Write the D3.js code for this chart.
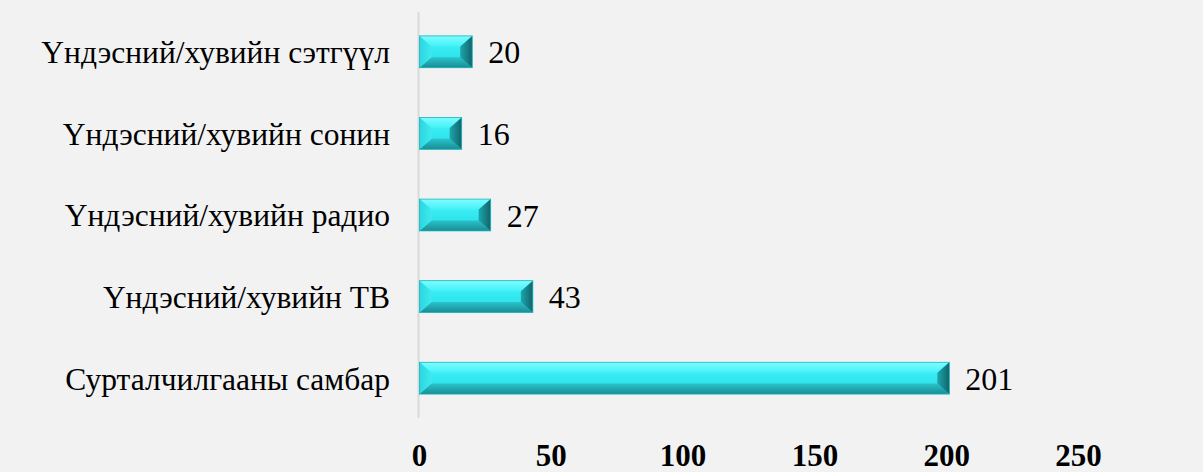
<!DOCTYPE html>
<html>
<head>
<meta charset="utf-8">
<script src="https://cdn.jsdelivr.net/npm/d3@7"></script>
<style>
  body { margin: 0; background: #f2f2f2; }
</style>
</head>
<body>
<div id="vis"></div>
<script>
// data (top to bottom)
const categories = ["Үндэсний/хувийн сэтгүүл", "Үндэсний/хувийн сонин", "Үндэсний/хувийн радио", "Үндэсний/хувийн ТВ", "Сурталчилгааны самбар"];
const values = [20, 16, 27, 43, 201];
const tickValues = [0, 50, 100, 150, 200, 250];

const width = 1203, height = 472;
const svg = d3.select("#vis")
    .append("svg")
    .attr("width", width)
    .attr("height", height);

svg.append("rect")
    .attr("width", width)
    .attr("height", height)
    .attr("fill", "#f2f2f2");

const x = d3.scaleLinear().domain([0, 250]).range([419.5, 1078.5]);
const y = d3.scaleBand().domain(categories).range([11, 419])
    .paddingInner(0.61)
    .paddingOuter(0.305);

// gradients for bevel faces
const defs = svg.append("defs");
function grad(id, stops, x2, y2) {
    const g = defs.append("linearGradient").attr("id", id)
        .attr("x1", 0).attr("y1", 0).attr("x2", x2).attr("y2", y2);
    stops.forEach(s => g.append("stop").attr("offset", s[0]).attr("stop-color", s[1]));
}
grad("face", [[0, "#4af4fa"], [0.5, "#33e8f0"], [1, "#2bdbe3"]], 0, 1);
grad("top", [[0, "#7ffcff"], [1, "#42f1f8"]], 0, 1);
grad("bottom", [[0, "#2ac3cb"], [1, "#1a8c93"]], 0, 1);
grad("left", [[0, "#2ad6df"], [1, "#3fe9f0"]], 1, 0);
grad("right", [[0, "#1fa5ad"], [1, "#10646a"]], 1, 0);

// axis line
svg.append("line")
    .attr("x1", x(0) - 1).attr("x2", x(0) - 1)
    .attr("y1", 12).attr("y2", 418)
    .attr("stroke", "#d9d9d9")
    .attr("stroke-width", 2);

const bars = svg.append("g").selectAll("g")
    .data(categories)
    .enter()
    .append("g");

bars.each(function (c, i) {
    const g = d3.select(this);
    const x0 = x(0), x1 = x(values[i]);
    const y0 = y(c), y1 = y(c) + y.bandwidth();
    const h = y1 - y0;
    const b = Math.min(12, (x1 - x0) / 2), bv = h * 0.33;
    const pts = arr => arr.map(p => p.join(",")).join(" ");
    g.append("rect").attr("x", x0).attr("y", y0).attr("width", x1 - x0).attr("height", h).attr("fill", "url(#face)");
    g.append("polygon").attr("points", pts([[x0, y0], [x1, y0], [x1 - b, y0 + bv], [x0 + b, y0 + bv]])).attr("fill", "url(#top)");
    g.append("polygon").attr("points", pts([[x0, y1], [x1, y1], [x1 - b, y1 - bv], [x0 + b, y1 - bv]])).attr("fill", "url(#bottom)");
    g.append("polygon").attr("points", pts([[x0, y0], [x0 + b, y0 + bv], [x0 + b, y1 - bv], [x0, y1]])).attr("fill", "url(#left)");
    g.append("polygon").attr("points", pts([[x1, y0], [x1 - b, y0 + bv], [x1 - b, y1 - bv], [x1, y1]])).attr("fill", "url(#right)");
    g.append("rect").attr("x", x0).attr("y", y0).attr("width", x1 - x0).attr("height", h)
        .attr("fill", "none").attr("stroke", "#1ab5be").attr("stroke-width", 0.8);
});

// value labels
svg.append("g").selectAll("text")
    .data(categories)
    .enter()
    .append("text")
    .attr("x", (c, i) => x(values[i]) + 16)
    .attr("y", c => y(c) + y.bandwidth() / 2)
    .attr("dy", "0.36em")
    .attr("font-family", "Liberation Serif, Times New Roman, serif")
    .attr("font-size", 32)
    .attr("fill", "#000")
    .text((c, i) => values[i]);

// category labels
svg.append("g").selectAll("text")
    .data(categories)
    .enter()
    .append("text")
    .attr("x", 390)
    .attr("y", c => y(c) + y.bandwidth() / 2)
    .attr("dy", "0.36em")
    .attr("text-anchor", "end")
    .attr("font-family", "Liberation Serif, Times New Roman, serif")
    .attr("font-size", 31.5)
    .attr("fill", "#000")
    .text(c => c);

// x tick labels
svg.append("g").selectAll("text")
    .data(tickValues)
    .enter()
    .append("text")
    .attr("x", d => x(d))
    .attr("y", 466)
    .attr("text-anchor", "middle")
    .attr("font-family", "Liberation Serif, Times New Roman, serif")
    .attr("font-weight", "bold")
    .attr("font-size", 31)
    .attr("fill", "#000")
    .text(d => d);
</script>
</body>
</html>
